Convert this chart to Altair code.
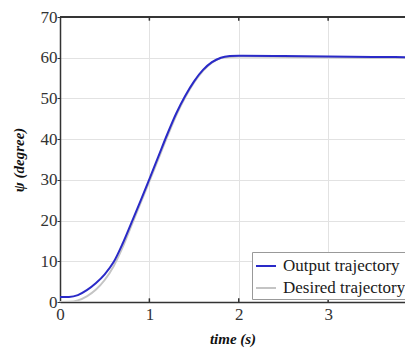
import altair as alt
import pandas as pd

time = [0, 0.1, 0.2, 0.3, 0.4, 0.5, 0.6, 0.7, 0.8, 0.9, 1.0, 1.1, 1.2, 1.3, 1.4,
        1.5, 1.6, 1.7, 1.8, 1.9, 2.0, 2.5, 3.0, 3.5, 4.0]
output = [1.2, 1.25, 1.7, 2.9, 4.6, 6.8, 9.8, 14.3, 19.5, 24.8, 30.2, 35.7, 41.2, 46.3, 50.6,
          54.2, 57.0, 58.9, 60.0, 60.4, 60.5, 60.4, 60.3, 60.2, 60.1]
desired = [0.0, 0.05, 0.4, 1.4, 3.0, 5.4, 8.8, 13.4, 18.8, 24.2, 29.6, 35.1, 40.6, 45.8, 50.2,
           53.9, 56.8, 58.8, 59.9, 60.2, 60.3, 60.2, 60.1, 60.0, 60.0]
series_names = ["Output trajectory", "Desired trajectory"]
x_ticks = [0, 1, 2, 3]
y_ticks = [0, 10, 20, 30, 40, 50, 60, 70]
x_max = 3.86

df_out = pd.DataFrame({"time": time, "psi": output, "series": series_names[0]})
df_des = pd.DataFrame({"time": time, "psi": desired, "series": series_names[1]})
df_xt = pd.DataFrame({"t": x_ticks[1:]})

FONT = "Liberation Serif"
xscale = alt.Scale(domain=[0, x_max], nice=False, zero=False)
yscale = alt.Scale(domain=[0, 70], nice=False)
color = alt.Color(
    "series:N",
    scale=alt.Scale(domain=series_names, range=["#2a2ac8", "#c4c4c4"]),
    legend=alt.Legend(
        title=None, orient="none", legendX=192, legendY=235,
        symbolType="stroke", symbolSize=400, symbolStrokeWidth=2,
        labelFont=FONT, labelFontSize=17, labelColor="#1a1a1a",
        fillColor="white", strokeColor="#999", padding=3,
        rowPadding=3, labelOffset=6, labelLimit=300,
    ),
)

x_axis = alt.Axis(values=x_ticks, format="d", title="time (s)", ticks=False,
                  grid=True, gridColor="#e2e2e2", labelFont=FONT, labelFontSize=17,
                  labelColor="#333", labelPadding=4, titleFont=FONT, titleFontSize=15,
                  titleFontWeight="bold", titleFontStyle="italic", titlePadding=9,
                  titleColor="#111", domainColor="#333", domainWidth=1.5, labelFlush=False)
y_axis = alt.Axis(values=y_ticks, format="d", title="ψ (degree)", tickSize=3,
                  tickColor="#333", grid=True, gridColor="#e2e2e2", labelFont=FONT,
                  labelFontSize=17, labelColor="#333", labelPadding=0, titleFont=FONT,
                  titleFontSize=15, titleFontWeight="bold", titleFontStyle="italic",
                  titleColor="#111", titlePadding=14, domainColor="#333", domainWidth=1.5)

des_line = alt.Chart(df_des).mark_line(strokeWidth=2, interpolate="monotone", clip=True).encode(
    x=alt.X("time:Q", scale=xscale, axis=x_axis),
    y=alt.Y("psi:Q", scale=yscale, axis=y_axis),
    color=color,
)
out_line = alt.Chart(df_out).mark_line(strokeWidth=2, interpolate="monotone", clip=True).encode(
    x=alt.X("time:Q", scale=xscale, axis=x_axis),
    y=alt.Y("psi:Q", scale=yscale, axis=y_axis),
    color=color,
)
top_frame = alt.Chart(df_xt).mark_rule(color="#333", strokeWidth=1.5).encode(
    x=alt.X(datum=0, scale=xscale, axis=x_axis),
    x2=alt.X2(datum=x_max),
    y=alt.Y(datum=70, scale=yscale, axis=y_axis),
)
ticks_bottom = alt.Chart(df_xt).mark_rule(color="#333", strokeWidth=1.5).encode(
    x=alt.X("t:Q", scale=xscale, axis=x_axis),
    y=alt.Y(datum=0, scale=yscale, axis=y_axis),
    y2=alt.Y2(datum=0.9),
)
ticks_top = alt.Chart(df_xt).mark_rule(color="#333", strokeWidth=1.5).encode(
    x=alt.X("t:Q", scale=xscale, axis=x_axis),
    y=alt.Y(datum=70, scale=yscale, axis=y_axis),
    y2=alt.Y2(datum=69.1),
)

chart = alt.layer(des_line, out_line, top_frame, ticks_bottom, ticks_top).properties(
    width=345, height=285,
    autosize=alt.AutoSizeParams(type="none"),
    padding={"left": 52, "top": 9, "right": 0, "bottom": 51},
).configure_view(stroke=None).configure(background="white")

chart.save("out.html", embed_options={"renderer": "svg", "actions": False})
